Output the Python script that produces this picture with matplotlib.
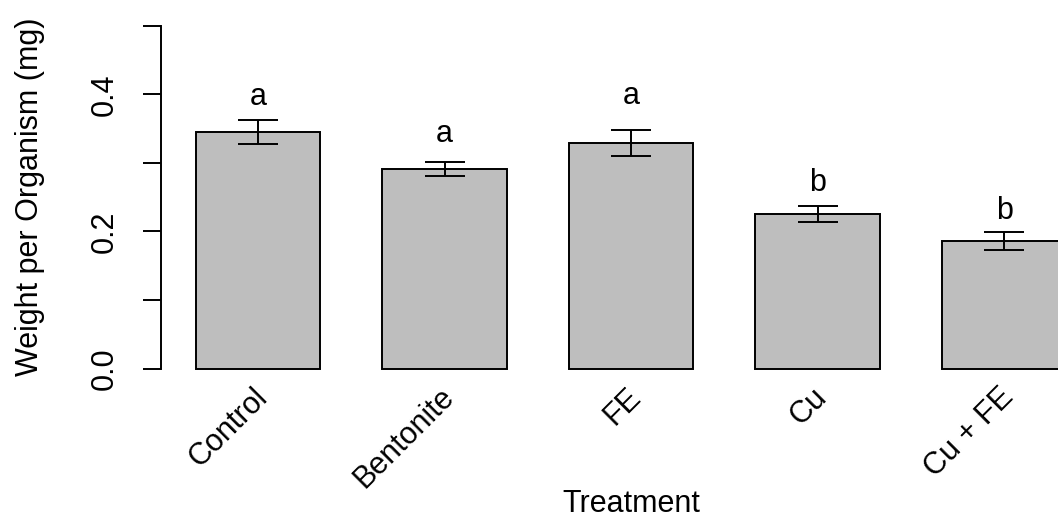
import matplotlib
matplotlib.use("Agg")
import matplotlib.pyplot as plt
import numpy as np

# data
treatments = ["Control", "Bentonite", "FE", "Cu", "Cu + FE"]
mean_weight = [0.3446, 0.2905, 0.329, 0.2253, 0.1857]
se_weight = [0.0178, 0.0103, 0.019, 0.0119, 0.0133]
group_letters = ["a", "a", "a", "b", "b"]
letter_y = [0.3843, 0.3305, 0.3854, 0.2595, 0.2178]
y_ticks = [0.0, 0.1, 0.2, 0.3, 0.4, 0.5]
y_tick_labels = ["0.0", "", "0.2", "", "0.4", ""]

plt.rcParams["font.family"] = ["Liberation Sans", "DejaVu Sans"]
FS = 22

fig = plt.figure(figsize=(10.58, 5.18), dpi=100)
ax = fig.add_axes([0.15236, 0.2618, 0.8883, 0.7151])

# R style barplot: width 1, space 0.5
x = 1.0 + 1.5 * np.arange(len(treatments))
ax.bar(x, mean_weight, width=1.0, color="#BEBEBE", edgecolor="black",
       linewidth=1.4, zorder=2)
ax.errorbar(x, mean_weight, yerr=se_weight, fmt="none", ecolor="black",
            elinewidth=1.4, capsize=14.4, capthick=1.4, zorder=3)

for xi, lab, yl in zip(x, group_letters, letter_y):
    ax.text(xi, yl, lab, ha="center", va="baseline", fontsize=FS)

ax.set_xlim(0.22, 7.78)
ax.set_ylim(-0.02, 0.52)

for s in ["top", "right", "bottom"]:
    ax.spines[s].set_visible(False)
ax.spines["left"].set_bounds(0, 0.5)
ax.spines["left"].set_linewidth(1.4)

ax.set_yticks(y_ticks)
ax.set_yticklabels(y_tick_labels, rotation=90, va="center", ha="center",
                   fontsize=FS)
ax.tick_params(axis="y", length=13, width=1.4, pad=28)

ax.set_xticks([])
for xi, lab in zip(x, treatments):
    ax.text(xi + 0.04, -0.035, lab, rotation=45, ha="right", va="center",
            rotation_mode="anchor", fontsize=FS, clip_on=False)

ax.set_xlabel("Treatment", fontsize=FS)
ax.xaxis.label.set_va("baseline")
ax.xaxis.set_label_coords(0.5, -0.35)

ax.set_ylabel("Weight per Organism (mg)", fontsize=FS)
ax.yaxis.label.set_va("center")
ax.yaxis.label.set_ha("center")
ax.yaxis.set_label_coords(-0.1396, 0.5)

fig.savefig("out.png", dpi=100, facecolor="white")
